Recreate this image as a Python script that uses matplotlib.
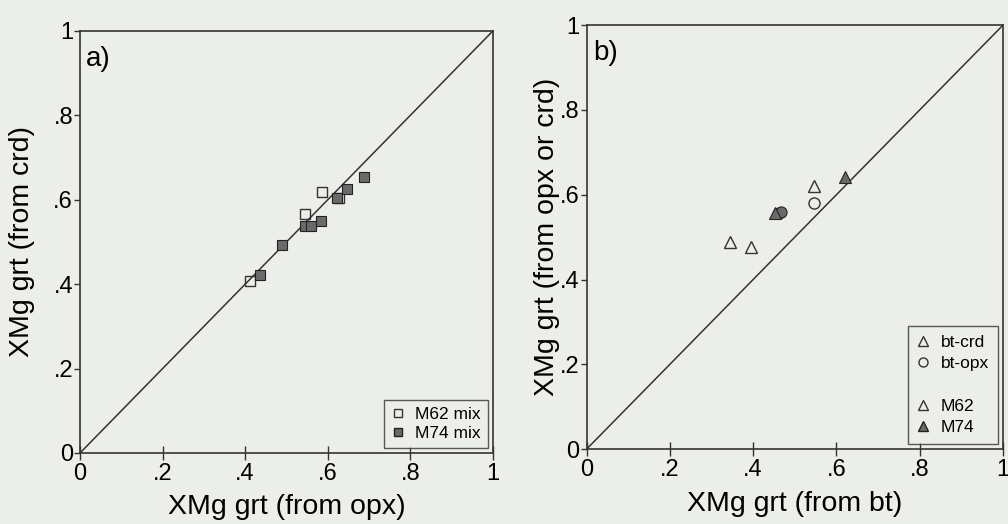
"""XMg garnet comparison: a) crd vs opx, b) opx/crd vs bt."""
import matplotlib.pyplot as plt
from matplotlib.lines import Line2D

plt.rcParams['font.family'] = ['Liberation Sans', 'DejaVu Sans']

# panel a: XMg grt from opx (x) vs from crd (y)
m62_opx = [0.412, 0.544, 0.585, 0.627]
m62_crd = [0.408, 0.566, 0.618, 0.604]
m74_opx = [0.437, 0.488, 0.546, 0.559, 0.583, 0.622, 0.646, 0.688]
m74_crd = [0.422, 0.493, 0.538, 0.538, 0.550, 0.604, 0.626, 0.654]

# panel b: XMg grt from bt (x) vs from opx or crd (y)
m62_btcrd_x = [0.344, 0.394, 0.546]
m62_btcrd_y = [0.488, 0.476, 0.620]
m62_btopx_x = [0.546]
m62_btopx_y = [0.580]
m74_btcrd_x = [0.452, 0.620]
m74_btcrd_y = [0.556, 0.642]
m74_btopx_x = [0.462, 0.468]
m74_btopx_y = [0.558, 0.560]

ticks = [0, 0.2, 0.4, 0.6, 0.8, 1]
tick_labels = ["0", ".2", ".4", ".6", ".8", "1"]

bg = "#eceee9"
dark = "#6a6a6a"
ink = "#333333"

fig = plt.figure(figsize=(10.08, 5.24), dpi=100, facecolor=bg)
ax1 = fig.add_axes([0.0794, 0.1355, 0.4096, 0.8055])
ax2 = fig.add_axes([0.582, 0.143, 0.413, 0.809])


def style(ax, xlabel, ylabel, tag, ypad):
    ax.set_facecolor(bg)
    ax.plot([0, 1], [0, 1], color=ink, lw=1.1, zorder=1)
    ax.set_xlim(0, 1); ax.set_ylim(0, 1)
    ax.set_xticks(ticks); ax.set_xticklabels(tick_labels)
    ax.set_yticks(ticks); ax.set_yticklabels(tick_labels)
    ax.tick_params(axis="x", direction="inout", length=10, width=1,
                   labelsize=17, pad=2, color=ink)
    ax.tick_params(axis="y", direction="out", length=4, width=1,
                   labelsize=17, pad=1, color=ink)
    for s in ax.spines.values():
        s.set_color(ink); s.set_linewidth(1.2)
    ax.set_xlabel(xlabel, fontsize=20.5, labelpad=7)
    ax.set_ylabel(ylabel, fontsize=20.5, labelpad=ypad)
    ax.text(0.015, 0.965, tag, transform=ax.transAxes, fontsize=20,
            ha="left", va="top")


style(ax1, "XMg grt (from opx)", "XMg grt (from crd)", "a)", 13)
ax1.plot(m62_opx, m62_crd, "s", ms=7.5, mfc="none", mec=ink, mew=1, zorder=3)
ax1.plot(m74_opx, m74_crd, "s", ms=7.5, mfc=dark, mec="#222222", mew=0.8,
         zorder=4)
ax1.legend(handles=[
    Line2D([], [], ls="none", marker="s", ms=6, mfc="none", mec=ink),
    Line2D([], [], ls="none", marker="s", ms=6, mfc=dark, mec="#222222")],
    labels=["M62 mix", "M74 mix"], loc="lower right", fontsize=12.5,
    frameon=True, fancybox=False, edgecolor=ink, facecolor=bg,
    handlelength=0.8, handletextpad=0.6, borderaxespad=0.3,
    labelspacing=0.2, borderpad=0.4)

style(ax2, "XMg grt (from bt)", "XMg grt (from opx or crd)", "b)", 0)
ax2.plot(m62_btcrd_x, m62_btcrd_y, "^", ms=8, mfc="none", mec=ink, mew=1)
ax2.plot(m62_btopx_x, m62_btopx_y, "o", ms=8, mfc="none", mec=ink, mew=1)
ax2.plot(m74_btopx_x, m74_btopx_y, "o", ms=8, mfc=dark, mec="#222222",
         mew=0.8)
ax2.plot(m74_btcrd_x, m74_btcrd_y, "^", ms=8, mfc=dark, mec="#222222",
         mew=0.8)
ax2.legend(handles=[
    Line2D([], [], ls="none", marker="^", ms=6.5, mfc="none", mec=ink),
    Line2D([], [], ls="none", marker="o", ms=6.5, mfc="none", mec=ink),
    Line2D([], [], ls="none"),
    Line2D([], [], ls="none", marker="^", ms=6.5, mfc="none", mec=ink),
    Line2D([], [], ls="none", marker="^", ms=6.5, mfc=dark, mec="#222222")],
    labels=["bt-crd", "bt-opx", "", "M62", "M74"], loc="lower right",
    fontsize=12.5, frameon=True, fancybox=False, edgecolor=ink, facecolor=bg,
    handlelength=0.8, handletextpad=0.6, borderaxespad=0.3,
    labelspacing=0.35, borderpad=0.5)

fig.savefig("out.png", dpi=100, facecolor=bg)
